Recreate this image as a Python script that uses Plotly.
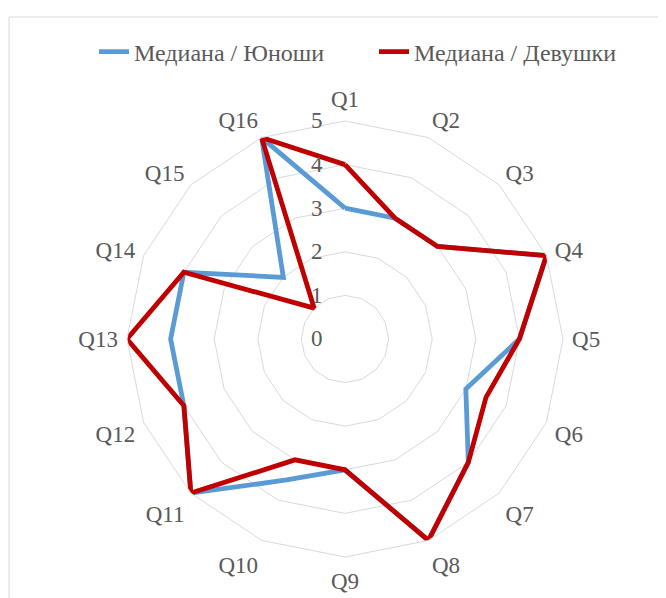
import plotly.graph_objects as go

categories = ["Q1", "Q2", "Q3", "Q4", "Q5", "Q6", "Q7", "Q8",
              "Q9", "Q10", "Q11", "Q12", "Q13", "Q14", "Q15", "Q16"]
boys = [3, 3, 3, 5, 4, 3, 4, 5, 3, 3.5, 5, 4, 4, 4, 2, 5]
girls = [4, 3, 3, 5, 4, 3.5, 4, 5, 3, 3, 5, 4, 5, 4, 1, 5]
series_names = ["Медиана / Юноши", "Медиана / Девушки"]
radial_ticks = [0, 1, 2, 3, 4, 5]

FONT = "Liberation Serif"
GRAY = "#595959"
GRID = "#D9D9D9"

fig = go.Figure()
for name, vals, color, leg in [(series_names[0], boys, "#5B9BD5", "legend"),
                               (series_names[1], girls, "#C00000", "legend2")]:
    fig.add_trace(go.Scatterpolar(
        r=vals + vals[:1],
        theta=categories + categories[:1],
        mode="lines",
        name=name,
        legend=leg,
        line=dict(color=color, width=4.8),
    ))

OFF = 8  # page body margin
L, R, T, B = 127 - OFF, 103 + OFF, 121 - OFF, 41 + OFF
W = 666 - L - R
H = 598 - T - B


def px_x(x):
    return (x - OFF - L) / W


def px_y(y):
    return (598 - B - (y - OFF)) / H


def legend_at(xpx):
    return dict(orientation="h", xref="paper", yref="paper",
                x=px_x(xpx), xanchor="left",
                y=px_y(52), yanchor="middle",
                font=dict(family=FONT, size=24, color=GRAY),
                itemwidth=30, bgcolor="rgba(0,0,0,0)")


fig.update_layout(
    width=666, height=598,
    margin=dict(l=L, r=R, t=T, b=B, autoexpand=False),
    paper_bgcolor="white",
    font=dict(family=FONT, size=23, color=GRAY),
    showlegend=True,
    legend=legend_at(94),
    legend2=legend_at(374),
    polar=dict(
        bgcolor="white",
        gridshape="linear",
        angularaxis=dict(
            direction="clockwise", rotation=90,
            showgrid=False, showline=True, linecolor=GRID, linewidth=1,
            ticks="outside", ticklen=4, tickcolor="rgba(0,0,0,0)",
            tickfont=dict(family=FONT, size=23, color=GRAY),
        ),
        radialaxis=dict(
            range=[0, 5], tickvals=radial_ticks, angle=90, tickangle=90,
            side="counterclockwise",
            showline=False, gridcolor=GRID, gridwidth=1,
            ticks="outside", ticklen=14, tickcolor="rgba(0,0,0,0)",
            tickfont=dict(family=FONT, size=23, color=GRAY),
        ),
    ),
    shapes=[dict(type="rect", xref="paper", yref="paper",
                 x0=px_x(9), x1=3, y0=-3, y1=px_y(17),
                 line=dict(color=GRID, width=1), fillcolor="rgba(0,0,0,0)",
                 layer="below")],
)

fig.write_html("out.html")
